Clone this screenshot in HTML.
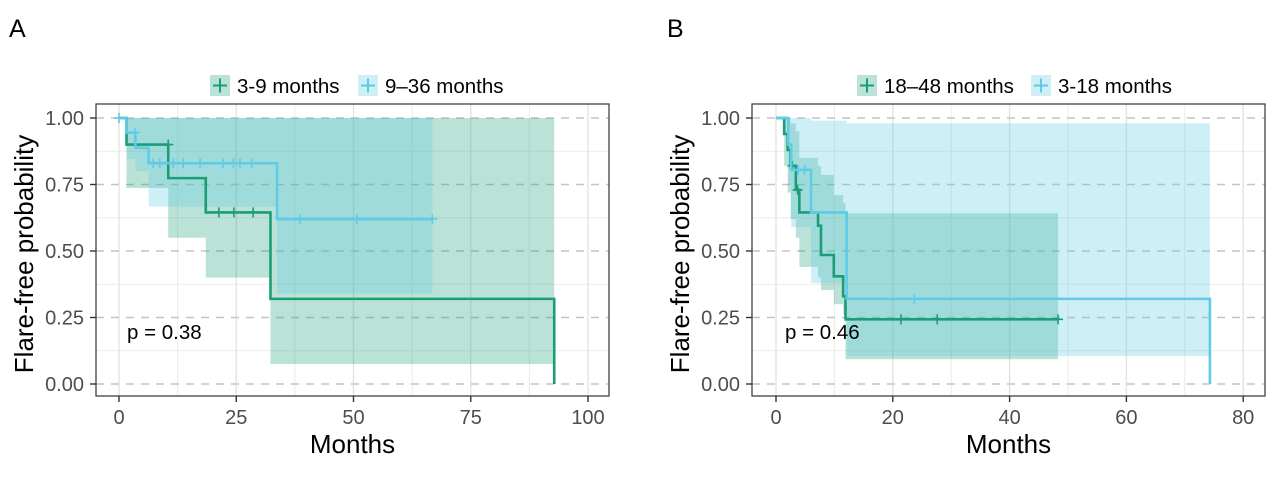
<!DOCTYPE html>
<html><head><meta charset="utf-8"><style>
body{margin:0;background:#fff;}
svg text{font-family:"Liberation Sans",Arial,sans-serif;}
</style></head><body>
<svg id="chart" width="1280" height="480" viewBox="0 0 1280 480" xmlns="http://www.w3.org/2000/svg"></svg>
<script>
// Panel A data
const aGreenTimes = [0, 1.6, 10.5, 18.5, 32.3, 92.8];
const aGreenSurv = [1, 0.90, 0.774, 0.645, 0.32, 0];
const aGreenLower = [1, 0.737, 0.55, 0.40, 0.075];
const aGreenUpper = [1, 1, 1, 1, 1];
const aGreenCens = [[10.5,0.90],[21.3,0.645],[24.5,0.645],[28.6,0.645]];
const aBlueTimes = [0, 1.6, 3.5, 6.3, 33.7, 66.8];
const aBlueSurv = [1, 0.945, 0.888, 0.83, 0.62];
const aBlueLower = [1, 0.846, 0.80, 0.667, 0.34];
const aBlueUpper = [1, 1, 1, 1, 1];
const aBlueCens = [[0,1],[3.4,0.945],[7.3,0.83],[8.7,0.83],[11.6,0.83],[13.7,0.83],[17.3,0.83],[22.2,0.83],[24.4,0.83],[25.8,0.83],[28.3,0.83],[38.6,0.62],[50.7,0.62],[66.8,0.62]];
const aXTicks = [0,25,50,75,100];
// Panel B data
const bGreenTimes = [0, 1.4, 2.0, 2.5, 3.4, 4.0, 7.2, 7.7, 9.9, 11.5, 11.9, 48.3];
const bGreenSurv = [1, 0.94, 0.88, 0.82, 0.73, 0.645, 0.595, 0.485, 0.405, 0.33, 0.243];
const bGreenLower = [1, 0.82, 0.72, 0.62, 0.55, 0.44, 0.40, 0.353, 0.30, 0.26, 0.093];
const bGreenUpper = [1, 1, 1, 0.98, 0.95, 0.85, 0.82, 0.786, 0.71, 0.68, 0.642];
const bGreenCens = [[2.8,0.82],[3.7,0.73],[21.4,0.243],[27.6,0.243],[48.3,0.243]];
const bBlueTimes = [0, 2.1, 2.6, 6.0, 12.1, 74.3];
const bBlueSurv = [1, 0.90, 0.805, 0.645, 0.32, 0];
const bBlueLower = [1, 0.75, 0.59, 0.38, 0.105];
const bBlueUpper = [1, 1, 1, 0.99, 0.98];
const bBlueCens = [[3.8,0.805],[4.9,0.805],[23.7,0.32]];
const bXTicks = [0,20,40,60,80];
const yTicks = [0, 0.25, 0.5, 0.75, 1];
const yTickLabels = ["0.00","0.25","0.50","0.75","1.00"];

const NS="http://www.w3.org/2000/svg";
const svg=document.getElementById('chart');
function mk(tag,attrs,parent){const e=document.createElementNS(NS,tag);for(const k in attrs)e.setAttribute(k,attrs[k]);(parent||svg).appendChild(e);return e;}
const GREEN="#1b9e77", BLUE="#5fcbe6";

function panel(cfg){
  const L=cfg.left,R=cfg.right,T=104,B=396;
  const x=v=>cfg.x0+(v-cfg.xmin)*cfg.scale;
  const y=v=>384-v*266;
  const g=mk('g',{});
  
  
  mk('rect',{x:L,y:T,width:R-L,height:B-T,fill:'#fff'},g);
  for(let v=0.125;v<1;v+=0.25)mk('line',{x1:L,x2:R,y1:y(v),y2:y(v),stroke:'#ebebeb','stroke-width':1},g);
  const step=cfg.ticks[1]-cfg.ticks[0];
  for(let v=cfg.ticks[0]-step/2;v<=cfg.ticks[cfg.ticks.length-1]+step/2;v+=step){const px=x(v);if(px>L&&px<R)mk('line',{x1:px,x2:px,y1:T,y2:B,stroke:'#ebebeb','stroke-width':1},g);}
  cfg.ticks.forEach(v=>mk('line',{x1:x(v),x2:x(v),y1:T,y2:B,stroke:'#e3e3e3','stroke-width':1.4},g));
  yTicks.forEach(v=>mk('line',{x1:L,x2:R,y1:y(v),y2:y(v),stroke:'#c4c4c4','stroke-width':1.6,'stroke-dasharray':'8 7'},g));
  function ribbon(times,low,up,color,nm){
    let d='';const n=low.length;
    for(let i=0;i<n;i++){d+=(i?'L':'M')+x(times[i])+','+y(up[i])+'L'+x(times[i+1])+','+y(up[i]);}
    for(let i=n-1;i>=0;i--){d+='L'+x(times[i+1])+','+y(low[i])+'L'+x(times[i])+','+y(low[i]);}
    const p=mk('path',{d:d+'Z',fill:color,'fill-opacity':0.3,stroke:'none'},g);
    
    
  }
  function curve(times,surv,color,nm){
    let d='M'+x(times[0])+','+y(surv[0]);
    for(let i=0;i<surv.length;i++){d+='L'+x(times[i+1])+','+y(surv[i]);if(i+1<surv.length)d+='L'+x(times[i+1])+','+y(surv[i+1]);}
    const p=mk('path',{d:d,fill:'none',stroke:color,'stroke-width':2.6},g);
    
    
  }
  function cens(pts,color,nm){
    pts.forEach(pt=>{const c=mk('path',{d:`M${x(pt[0])-5},${y(pt[1])}h10M${x(pt[0])},${y(pt[1])-5}v10`,stroke:color,'stroke-width':1.6},g);
      
      });
  }
  cfg.series.forEach(s=>ribbon(s.t,s.lo,s.up,s.c,s.n+'-ci'));
  cfg.series.forEach(s=>{curve(s.t,s.s,s.c,s.n+'-curve');cens(s.cens,s.c,s.n+'-censor');});
  mk('rect',{x:L,y:T,width:R-L,height:B-T,fill:'none',stroke:'#333','stroke-width':1.2},g);
  yTicks.forEach((v,i)=>{mk('line',{x1:L-6,x2:L,y1:y(v),y2:y(v),stroke:'#333','stroke-width':1.4},g);
    const t=mk('text',{x:L-12,y:y(v)+7,'text-anchor':'end','font-size':20,fill:'#4d4d4d'},g);t.textContent=yTickLabels[i];});
  cfg.ticks.forEach(v=>{mk('line',{x1:x(v),x2:x(v),y1:B,y2:B+6,stroke:'#333','stroke-width':1.4},g);
    const t=mk('text',{x:x(v),y:424,'text-anchor':'middle','font-size':20,fill:'#4d4d4d'},g);t.textContent=v;});
  const xt=mk('text',{x:(L+R)/2,y:453,'text-anchor':'middle','font-size':26,fill:'#000'},g);xt.textContent='Months';
  
  const yt=mk('text',{x:0,y:0,'text-anchor':'middle','font-size':26,fill:'#000',transform:`translate(${L-63},${(T+B)/2+4}) rotate(-90)`},g);yt.textContent='Flare-free probability';
  
  const pv=mk('text',{x:cfg.px,y:339,'font-size':20.5,fill:'#000'},g);pv.textContent=cfg.p;
  
  const lab=mk('text',{x:cfg.labx,y:37,'font-size':25,fill:'#000'},g);lab.textContent=cfg.label;
  
  let lx=cfg.legx;
  cfg.series.forEach(s=>{
    const lg=mk('g',{},g);
    
    
    mk('rect',{x:lx,y:75,width:20,height:21,fill:s.c,'fill-opacity':0.3},lg);
    mk('path',{d:`M${lx+3},85.5h14M${lx+10},78.5v14`,stroke:s.c,'stroke-width':2},lg);
    const t=mk('text',{x:lx+27,y:93,'font-size':20.5,fill:'#000'},lg);t.textContent=s.label;
    lx+=s.w;
  });
}
panel({name:'panel-a',left:96,right:609,x0:119,xmin:0,scale:4.69,ticks:aXTicks,p:'p = 0.38',px:127,label:'A',labx:9,legx:210,
  series:[{t:aGreenTimes,s:aGreenSurv,lo:aGreenLower,up:aGreenUpper,cens:aGreenCens,c:GREEN,n:'group-3-9',label:'3-9 months',w:148},
          {t:aBlueTimes,s:aBlueSurv,lo:aBlueLower,up:aBlueUpper,cens:aBlueCens,c:BLUE,n:'group-9-36',label:'9–36 months',w:150}]});
panel({name:'panel-b',left:752,right:1265,x0:776,xmin:0,scale:5.84,ticks:bXTicks,p:'p = 0.46',px:785,label:'B',labx:667,legx:857,
  series:[{t:bGreenTimes,s:bGreenSurv,lo:bGreenLower,up:bGreenUpper,cens:bGreenCens,c:GREEN,n:'group-18-48',label:'18–48 months',w:174},
          {t:bBlueTimes,s:bBlueSurv,lo:bBlueLower,up:bBlueUpper,cens:bBlueCens,c:BLUE,n:'group-3-18',label:'3-18 months',w:150}]});
</script>
</body></html>
